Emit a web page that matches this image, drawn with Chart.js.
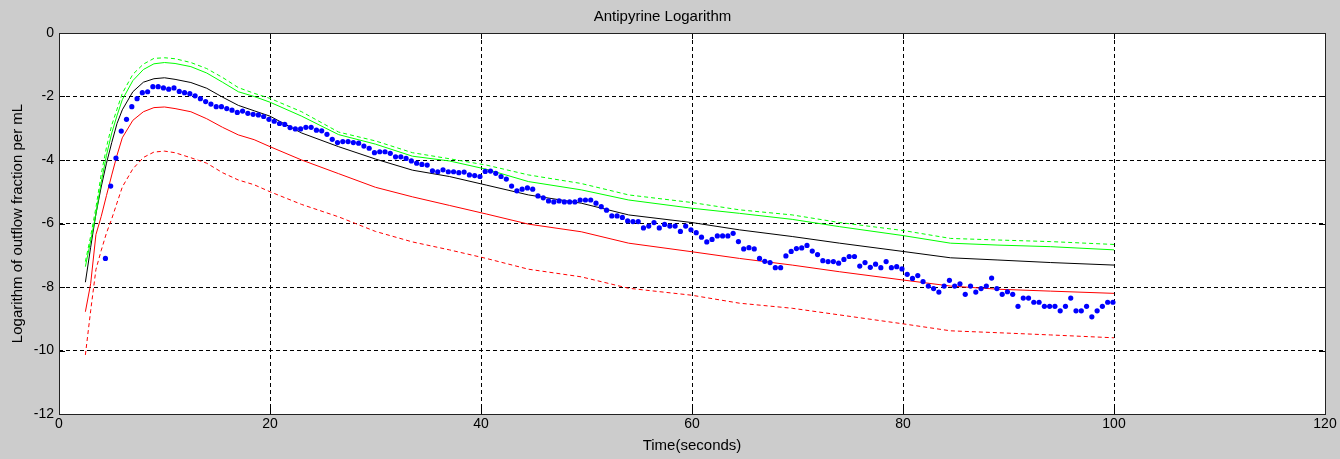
<!DOCTYPE html>
<html>
<head>
<meta charset="utf-8">
<script src="https://cdn.jsdelivr.net/npm/chart.js@4.4.1/dist/chart.umd.min.js"></script>
<style>
  html, body { margin: 0; padding: 0; background: #cccccc; }
  #wrap { width: 1340px; height: 459px; }
</style>
</head>
<body>
<div id="wrap"><canvas id="chart" width="1340" height="459"></canvas></div>
<script>
// measured outflow (blue dots)
const sampleTimes = [
  4.4, 4.9, 5.4, 5.9, 6.4, 6.9, 7.4, 7.9, 8.4, 8.9,
  9.4, 9.9, 10.4, 10.9, 11.4, 11.9, 12.4, 12.9, 13.4, 13.9,
  14.4, 14.9, 15.4, 15.9, 16.4, 16.9, 17.4, 17.9, 18.4, 18.9,
  19.4, 19.9, 20.4, 20.9, 21.4, 21.9, 22.4, 22.9, 23.4, 23.9,
  24.4, 24.9, 25.4, 25.9, 26.4, 26.9, 27.4, 27.9, 28.4, 28.9,
  29.4, 29.9, 30.4, 30.9, 31.4, 31.9, 32.4, 32.9, 33.4, 33.9,
  34.4, 34.9, 35.4, 35.9, 36.4, 36.9, 37.4, 37.9, 38.4, 38.9,
  39.4, 39.9, 40.4, 40.9, 41.4, 41.9, 42.4, 42.9, 43.4, 43.9,
  44.4, 44.9, 45.4, 45.9, 46.4, 46.9, 47.4, 47.9, 48.4, 48.9,
  49.4, 49.9, 50.4, 50.9, 51.4, 51.9, 52.4, 52.9, 53.4, 53.9,
  54.4, 54.9, 55.4, 55.9, 56.4, 56.9, 57.4, 57.9, 58.4, 58.9,
  59.4, 59.9, 60.4, 60.9, 61.4, 61.9, 62.4, 62.9, 63.4, 63.9,
  64.4, 64.9, 65.4, 65.9, 66.4, 66.9, 67.4, 67.9, 68.4, 68.9,
  69.4, 69.9, 70.4, 70.9, 71.4, 71.9, 72.4, 72.9, 73.4, 73.9,
  74.4, 74.9, 75.4, 75.9, 76.4, 76.9, 77.4, 77.9, 78.4, 78.9,
  79.4, 79.9, 80.4, 80.9, 81.4, 81.9, 82.4, 82.9, 83.4, 83.9,
  84.4, 84.9, 85.4, 85.9, 86.4, 86.9, 87.4, 87.9, 88.4, 88.9,
  89.4, 89.9, 90.4, 90.9, 91.4, 91.9, 92.4, 92.9, 93.4, 93.9,
  94.4, 94.9, 95.4, 95.9, 96.4, 96.9, 97.4, 97.9, 98.4, 98.9,
  99.4, 99.9
];
const observed = [
  -7.10, -4.82, -3.94, -3.09, -2.72, -2.32, -2.07, -1.88, -1.85, -1.69,
  -1.69, -1.73, -1.77, -1.73, -1.84, -1.88, -1.91, -1.98, -2.07, -2.16,
  -2.24, -2.32, -2.32, -2.38, -2.43, -2.50, -2.46, -2.53, -2.56, -2.58,
  -2.63, -2.72, -2.78, -2.85, -2.88, -2.98, -3.02, -3.02, -2.97, -2.97,
  -3.06, -3.08, -3.19, -3.35, -3.45, -3.42, -3.42, -3.45, -3.47, -3.56,
  -3.63, -3.77, -3.74, -3.74, -3.79, -3.90, -3.90, -3.95, -4.03, -4.10,
  -4.14, -4.16, -4.34, -4.37, -4.31, -4.37, -4.37, -4.40, -4.38, -4.47,
  -4.49, -4.52, -4.36, -4.35, -4.42, -4.52, -4.60, -4.82, -4.97, -4.92,
  -4.88, -4.92, -5.13, -5.19, -5.29, -5.32, -5.29, -5.32, -5.32, -5.32,
  -5.26, -5.26, -5.26, -5.36, -5.47, -5.58, -5.76, -5.76, -5.81, -5.92,
  -5.94, -5.94, -6.14, -6.08, -5.97, -6.14, -6.03, -6.08, -6.08, -6.25,
  -6.08, -6.20, -6.29, -6.43, -6.58, -6.50, -6.39, -6.39, -6.39, -6.31,
  -6.57, -6.80, -6.76, -6.80, -7.10, -7.19, -7.23, -7.39, -7.39, -7.02,
  -6.88, -6.79, -6.77, -6.69, -6.87, -6.98, -7.17, -7.20, -7.20, -7.25,
  -7.13, -7.04, -7.04, -7.34, -7.23, -7.38, -7.28, -7.39, -7.20, -7.39,
  -7.36, -7.43, -7.60, -7.73, -7.64, -7.83, -7.97, -8.05, -8.16, -7.97,
  -7.79, -7.97, -7.90, -8.23, -7.97, -8.16, -8.05, -7.97, -7.72, -8.05,
  -8.23, -8.15, -8.23, -8.61, -8.35, -8.35, -8.48, -8.48, -8.61, -8.61,
  -8.61, -8.75, -8.61, -8.35, -8.75, -8.75, -8.61, -8.94, -8.75, -8.61,
  -8.48, -8.48
];

// model curves, all sampled at the same times
const modelTimes = [2.5, 3, 3.5, 4, 4.5, 5, 5.5, 6, 7, 8, 9, 10, 11, 12.5, 14, 15.5, 17, 18.5, 20,
  23, 26.5, 30, 33.5, 37, 40.5, 44.5, 49.5, 54, 60, 64.5, 69.5, 74, 80, 84.5, 89, 94, 100];
const upperDashed = [-7.20, -6.40, -5.50, -4.45, -3.60, -2.90, -2.40, -1.90, -1.30, -0.98, -0.80, -0.78, -0.81, -0.93,
  -1.12, -1.40, -1.72, -1.90, -2.06, -2.48, -3.12, -3.40, -3.77, -3.96, -4.16, -4.47, -4.74, -5.10,
  -5.34, -5.57, -5.73, -5.97, -6.22, -6.47, -6.52, -6.57, -6.66];
const upperSolid = [-7.36, -6.55, -5.70, -4.70, -3.85, -3.15, -2.60, -2.10, -1.50, -1.15, -0.97, -0.93, -0.96, -1.06,
  -1.26, -1.55, -1.85, -2.00, -2.18, -2.62, -3.20, -3.50, -3.88, -4.03, -4.29, -4.68, -4.94, -5.26,
  -5.52, -5.68, -5.87, -6.10, -6.38, -6.62, -6.68, -6.73, -6.83];
const bestFit = [-7.85, -6.75, -5.70, -4.85, -4.10, -3.45, -2.85, -2.42, -1.85, -1.55, -1.44, -1.41, -1.46, -1.56,
  -1.74, -2.02, -2.28, -2.45, -2.62, -3.15, -3.58, -3.97, -4.32, -4.52, -4.79, -5.10, -5.36, -5.73,
  -5.97, -6.20, -6.41, -6.62, -6.88, -7.08, -7.15, -7.23, -7.31];
const lowerSolid = [-8.78, -7.90, -6.35, -5.78, -5.12, -4.47, -3.85, -3.30, -2.75, -2.48, -2.35, -2.33, -2.38, -2.48,
  -2.70, -2.97, -3.21, -3.36, -3.58, -4.00, -4.43, -4.86, -5.16, -5.43, -5.70, -6.02, -6.26, -6.62,
  -6.89, -7.10, -7.31, -7.52, -7.78, -7.97, -8.07, -8.13, -8.20];
const lowerDashed = [-10.14, -8.75, -7.45, -6.85, -6.30, -5.85, -5.35, -4.85, -4.28, -3.92, -3.75, -3.72, -3.77, -3.93,
  -4.10, -4.40, -4.63, -4.78, -5.00, -5.40, -5.79, -6.25, -6.58, -6.83, -7.10, -7.44, -7.68, -8.04,
  -8.26, -8.51, -8.67, -8.88, -9.16, -9.38, -9.44, -9.51, -9.60];

const xTicks = [0, 20, 40, 60, 80, 100, 120];
const yTicks = [-12, -10, -8, -6, -4, -2, 0];

const FONT = "'Liberation Sans', Arial, sans-serif";

function pairs(xs, ys) {
  return ys.map((y, i) => ({ x: xs[i], y: y }));
}

function curve(values, color, dashed) {
  return {
    data: pairs(modelTimes, values),
    borderColor: color,
    borderWidth: 1,
    borderDash: dashed ? [4, 3] : [],
    pointRadius: 0,
    tension: 0,
    fill: false,
  };
}

// white axes box, border and inward tick marks like the original figure
const axesBox = {
  id: "axesBox",
  beforeDraw(chart) {
    const { ctx, chartArea: a } = chart;
    ctx.save();
    ctx.fillStyle = "#ffffff";
    ctx.fillRect(a.left, a.top, a.right - a.left, a.bottom - a.top);
    ctx.restore();
  },
  afterDatasetsDraw(chart) {
    const { ctx, chartArea: a, scales } = chart;
    ctx.save();
    ctx.strokeStyle = "#000";
    ctx.lineWidth = 1;
    ctx.beginPath();
    xTicks.forEach((v) => {
      const px = Math.round(scales.x.getPixelForValue(v)) + 0.5;
      ctx.moveTo(px, a.bottom); ctx.lineTo(px, a.bottom - 6);
      ctx.moveTo(px, a.top); ctx.lineTo(px, a.top + 6);
    });
    yTicks.forEach((v) => {
      const py = Math.round(scales.y.getPixelForValue(v)) + 0.5;
      ctx.moveTo(a.left, py); ctx.lineTo(a.left + 6, py);
      ctx.moveTo(a.right, py); ctx.lineTo(a.right - 6, py);
    });
    ctx.stroke();
    ctx.strokeStyle = "#222";
    ctx.strokeRect(Math.round(a.left) + 0.5, Math.round(a.top) + 0.5,
      Math.round(a.right - a.left), Math.round(a.bottom - a.top));
    ctx.restore();
  },
};

const edgeHidden = (lo, hi) => (c) =>
  c.tick && (c.tick.value === lo || c.tick.value === hi) ? "rgba(0,0,0,0)" : "#000";

new Chart(document.getElementById("chart"), {
  type: "line",
  data: {
    datasets: [
      {
        data: pairs(sampleTimes, observed),
        showLine: false,
        pointRadius: 2.6,
        pointBackgroundColor: "#0000ff",
        pointBorderColor: "#0000ff",
        pointBorderWidth: 0,
      },
      curve(upperDashed, "#00ff00", true),
      curve(upperSolid, "#00ff00", false),
      curve(bestFit, "#000000", false),
      curve(lowerSolid, "#ff0000", false),
      curve(lowerDashed, "#ff0000", true),
    ],
  },
  options: {
    responsive: false,
    animation: false,
    layout: { padding: { left: 0, right: 15, top: 0, bottom: 0 } },
    plugins: {
      legend: { display: false },
      tooltip: { enabled: false },
      title: {
        display: true,
        text: "Antipyrine Logarithm",
        color: "#000",
        font: { family: FONT, size: 15, weight: "normal" },
        padding: { top: 8, bottom: 7 },
      },
    },
    scales: {
      x: {
        type: "linear",
        min: 0,
        max: 120,
        afterFit: (s) => { s.height = 45; },
        afterBuildTicks: (s) => { s.ticks = xTicks.map((v) => ({ value: v })); },
        ticks: { color: "#000", padding: 2, maxRotation: 0, font: { family: FONT, size: 14 } },
        grid: { color: edgeHidden(0, 120), lineWidth: 1, drawTicks: false },
        border: { display: false, dash: [4, 3] },
        title: {
          display: true,
          text: "Time(seconds)",
          color: "#000",
          font: { family: FONT, size: 15 },
          padding: { top: 0, bottom: 4 },
        },
      },
      y: {
        type: "linear",
        min: -12,
        max: 0,
        afterFit: (s) => { s.width = 59; },
        afterBuildTicks: (s) => { s.ticks = yTicks.map((v) => ({ value: v })); },
        ticks: { color: "#000", padding: 5, font: { family: FONT, size: 14 } },
        grid: { color: edgeHidden(-12, 0), lineWidth: 1, drawTicks: false },
        border: { display: false, dash: [4, 3] },
        title: {
          display: true,
          text: "Logarithm of outflow fraction per mL",
          color: "#000",
          font: { family: FONT, size: 15 },
          padding: { top: 9, bottom: 0 },
        },
      },
    },
  },
  plugins: [axesBox],
});
</script>
</body>
</html>
